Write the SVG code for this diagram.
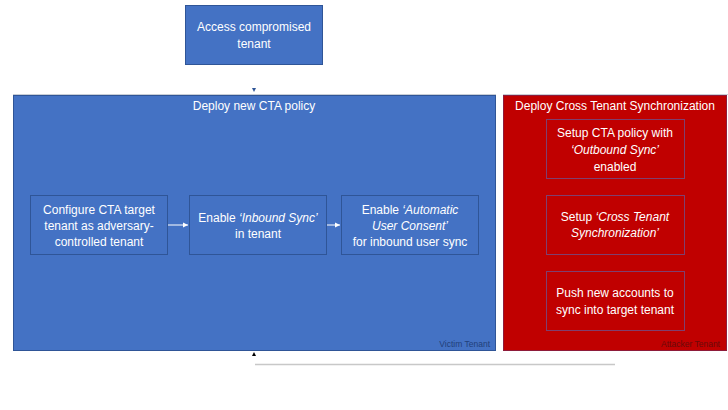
<svg xmlns="http://www.w3.org/2000/svg" width="728" height="410" viewBox="0 0 728 410">
<style>
text{font-family:"Liberation Sans",Arial,sans-serif;fill:#fff;font-size:12px;text-anchor:middle}
.blue{fill:#4472C4;stroke:#2F5597;stroke-width:1}
.inb{fill:#4472C4;stroke:#2F5597;stroke-width:1}
.red{fill:#C00000;stroke:#8E1B3A;stroke-width:1}
.inr{fill:#C00000;stroke:#7F3F6F;stroke-width:1}
.small{font-size:8.5px;text-anchor:end}
.conn{stroke:#fff;stroke-width:1;fill:none}
</style>
<defs>
<marker id="aw" markerWidth="6" markerHeight="6" refX="5" refY="3" orient="auto" markerUnits="userSpaceOnUse">
<path d="M0,0.5 L5,3 L0,5.5z" fill="#fff"/>
</marker>
</defs>
<rect width="728" height="410" fill="#fff"/>
<g id="access">
<rect class="blue" x="185.5" y="5.5" width="137" height="59"/>
<text x="254" y="31">Access compromised</text>
<text x="254" y="48">tenant</text>
</g>
<g id="victim">
<line x1="13" y1="94.5" x2="496" y2="94.5" stroke="#C9CED6"/>
<rect class="blue" x="13.5" y="95.5" width="482" height="255"/>
<text x="254" y="110">Deploy new CTA policy</text>
<text class="small" x="490" y="347" style="fill:#22407A">Victim Tenant</text>
</g>
<g id="cfg">
<rect class="inb" x="30.5" y="195.5" width="137" height="59"/>
<text x="99" y="214">Configure CTA target</text>
<text x="99" y="230">tenant as adversary-</text>
<text x="99" y="246">controlled tenant</text>
</g>
<g id="inbound">
<rect class="inb" x="189.5" y="195.5" width="137" height="59"/>
<text x="258" y="222">Enable <tspan font-style="italic">‘Inbound Sync’</tspan></text>
<text x="258" y="238">in tenant</text>
</g>
<g id="consent">
<rect class="inb" x="341.5" y="195.5" width="137" height="59"/>
<text x="410" y="214">Enable <tspan font-style="italic">‘Automatic</tspan></text>
<text x="410" y="230" font-style="italic">User Consent’</text>
<text x="410" y="246">for inbound user sync</text>
</g>
<g id="attacker">
<line x1="503" y1="94.5" x2="728" y2="94.5" stroke="#C9CED6"/>
<rect class="red" x="503.5" y="95.5" width="223" height="255"/>
<text x="615" y="110">Deploy Cross Tenant Synchronization</text>
<text class="small" x="720" y="347" style="fill:#6A0A0A">Attacker Tenant</text>
</g>
<g id="setupcta">
<rect class="inr" x="546.5" y="119.5" width="138" height="59"/>
<text x="615" y="137">Setup CTA policy with</text>
<text x="615" y="154" font-style="italic">‘Outbound Sync’</text>
<text x="615" y="171">enabled</text>
</g>
<g id="setupcts">
<rect class="inr" x="546.5" y="195.5" width="138" height="59"/>
<text x="615" y="221">Setup <tspan font-style="italic">‘Cross Tenant</tspan></text>
<text x="615" y="237" font-style="italic">Synchronization’</text>
</g>
<g id="push">
<rect class="inr" x="546.5" y="271.5" width="138" height="59"/>
<text x="615" y="297">Push new accounts to</text>
<text x="615" y="314">sync into target tenant</text>
</g>
<g id="connectors">
<line class="conn" x1="168" y1="225" x2="188" y2="225" marker-end="url(#aw)" stroke="#DDE6F5"/>
<line class="conn" x1="327" y1="225" x2="340" y2="225" marker-end="url(#aw)" stroke="#DDE6F5"/>
<path d="M252,88 L256,88 L254,92z" fill="#2F5597"/>
<path d="M252,356 L256,356 L254,352z" fill="#000"/>
<line x1="255" y1="364.5" x2="615" y2="364.5" stroke="#C8C8C8" stroke-width="1.5"/>
</g>
</svg>
